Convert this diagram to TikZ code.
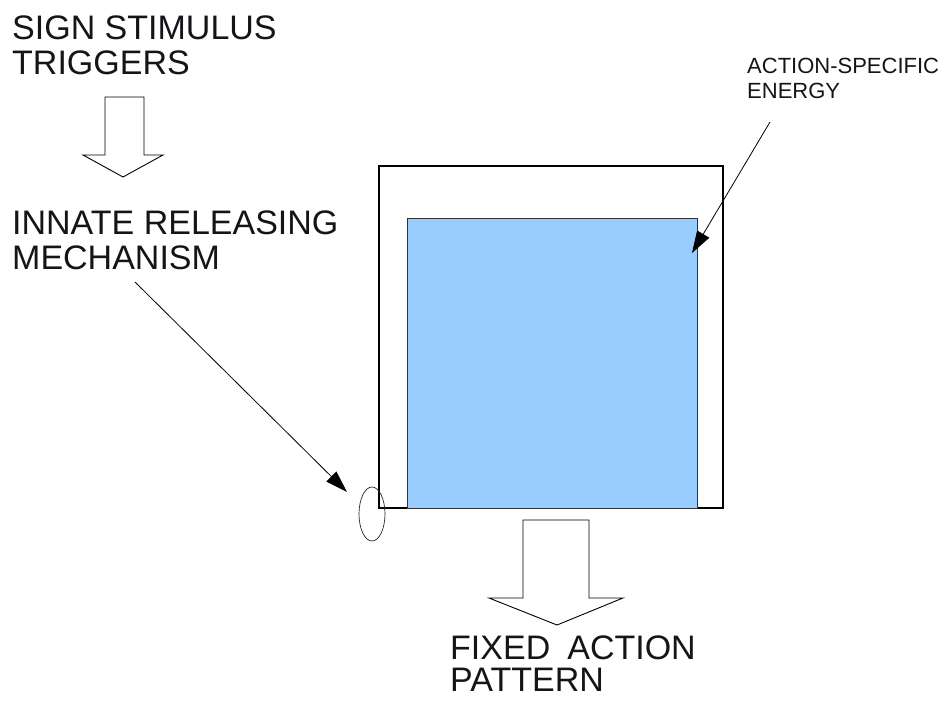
\documentclass[tikz,border=0pt]{standalone}
\usepackage{fontspec}
\setmainfont{Liberation Sans}
\usetikzlibrary{arrows.meta,shapes.geometric}
\definecolor{boxblue}{RGB}{153,204,255}
\definecolor{inkc}{RGB}{20,20,25}
\begin{document}
\begin{tikzpicture}[x=1pt,y=-1pt,
  lbl/.style={anchor=north west, inner sep=0pt, align=left, text=inkc,
    font=\fontsize{34}{35}\selectfont},
  smalllbl/.style={anchor=north west, inner sep=0pt, align=left, text=inkc,
    font=\fontsize{22}{25}\selectfont},
  hollow/.style={draw=black, fill=white, line width=0.9pt, line join=miter},
  ptr/.style={draw=black, line width=0.8pt, -{Triangle[length=22pt,width=14pt]}}]
\useasboundingbox (0,0) rectangle (946,702);
% texts
\node[lbl] (sign) at (12,16) {SIGN STIMULUS\\TRIGGERS};
\node[lbl] (irm) at (12,211) {INNATE RELEASING\\MECHANISM};
\node[smalllbl] (ase) at (747,58) {ACTION-SPECIFIC\\ENERGY};
\node[lbl, font=\fontsize{34}{32}\selectfont] (fap) at (450,636)
  {FIXED\hspace{0.5em}ACTION\\PATTERN};
% boxes
\draw[line width=1.2pt, draw=black] (379,166) rectangle (723,508);
\node[draw=black!80, fill=boxblue, line width=1pt, inner sep=0pt,
      minimum width=290pt, minimum height=290pt] (energy) at (552,363) {};
\node[draw=black!85, ellipse, line width=0.7pt, inner sep=0pt,
      minimum width=26pt, minimum height=54pt] (rel) at (372,514) {};
% hollow block arrows
\draw[hollow] (105,97) -- (144,97) -- (144,155) -- (163,155) -- (123,177)
  -- (83,155) -- (105,155) -- cycle;
\draw[hollow] (523,520) -- (589,520) -- (589,598) -- (623,598) -- (557,625)
  -- (489,598) -- (523,598) -- cycle;
% pointer arrows
\coordinate (irmStart) at (135,282);
\coordinate (irmTip) at (347,492);
\coordinate (aseStart) at (770,122);
\coordinate (aseTip) at (692,253);
\draw[ptr] (irmStart) -- (irmTip);
\draw[ptr] (aseStart) -- (aseTip);
\end{tikzpicture}
\end{document}
